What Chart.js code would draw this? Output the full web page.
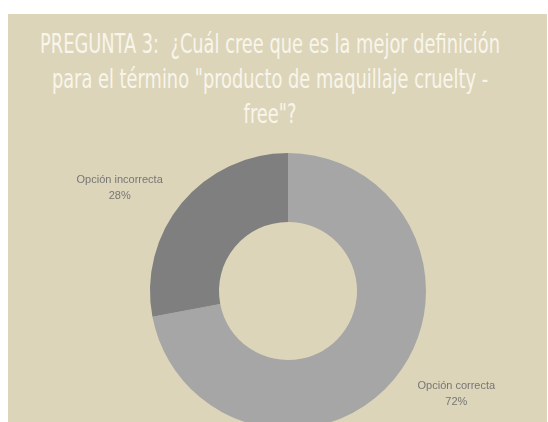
<!DOCTYPE html>
<html>
<head>
<meta charset="utf-8">
<script src="https://cdn.jsdelivr.net/npm/chart.js@4.4.1/dist/chart.umd.min.js"></script>
<style>
    html, body { margin: 0; padding: 0; background: #ffffff; overflow: hidden; width: 548px; height: 422px; }
    #panel { position: absolute; left: 8px; top: 14px; width: 539px; height: 430px; background: #ddd5b9; }
    #title {
        position: absolute; left: 262px; top: 12px; width: max-content;
        text-align: center; color: #f8f5ec; white-space: nowrap;
        font-family: "DejaVu Sans Condensed", "Liberation Sans Narrow", sans-serif;
        font-size: 27px; line-height: 35px;
        transform-origin: center top;
        transform: translateX(-50%);
    }
    #chart { position: absolute; left: 0; top: 0; }
</style>
</head>
<body>
<div id="panel">
    <div id="title"><span id="line1">PREGUNTA 3:&nbsp; ¿Cuál cree que es la mejor definición</span><br>para el término "producto de maquillaje cruelty -<br>free"?</div>
    <canvas id="chart" width="539" height="430"></canvas>
</div>
<script>
const labels = ['Opción correcta', 'Opción incorrecta'];
const values = [72, 28];
const colors = ['#a6a6a6', '#7f7f7f'];

// squeeze the heading so its first line spans about 460px
const title = document.getElementById('title');
const lineWidth = document.getElementById('line1').getBoundingClientRect().width;
title.style.transform = 'translateX(-50%) scaleX(' + (460 / lineWidth) + ')';

// writes "name / pct%" beside each slice, pushed out sideways from the rim
const sideLabels = {
    id: 'sideLabels',
    afterDatasetsDraw(chart) {
        const ctx = chart.ctx;
        const meta = chart.getDatasetMeta(0);
        const total = values.reduce((a, b) => a + b, 0);
        ctx.save();
        ctx.font = '11px "Liberation Sans", Arial, sans-serif';
        ctx.fillStyle = '#767676';
        ctx.textAlign = 'center';
        ctx.textBaseline = 'middle';
        meta.data.forEach((arc, i) => {
            const mid = (arc.startAngle + arc.endAngle) / 2;
            const px = arc.x + Math.cos(mid) * arc.outerRadius;
            const py = arc.y + Math.sin(mid) * arc.outerRadius;
            const sx = Math.sign(Math.cos(mid));
            const sy = Math.sign(Math.sin(mid));
            const x = px + sx * 62;
            const y = py + sy * 15;
            const pct = Math.round(values[i] / total * 100) + '%';
            ctx.fillText(labels[i], x, y - 8);
            ctx.fillText(pct, x, y + 8);
        });
        ctx.restore();
    }
};

new Chart(document.getElementById('chart'), {
    type: 'doughnut',
    data: {
        labels: labels,
        datasets: [{
            data: values,
            backgroundColor: colors,
            borderWidth: 0
        }]
    },
    options: {
        responsive: false,
        animation: false,
        cutout: '50%',
        layout: { padding: { left: 142, right: 121, top: 139, bottom: 15 } },
        plugins: {
            legend: { display: false },
            tooltip: { enabled: false }
        }
    },
    plugins: [sideLabels]
});
</script>
</body>
</html>
